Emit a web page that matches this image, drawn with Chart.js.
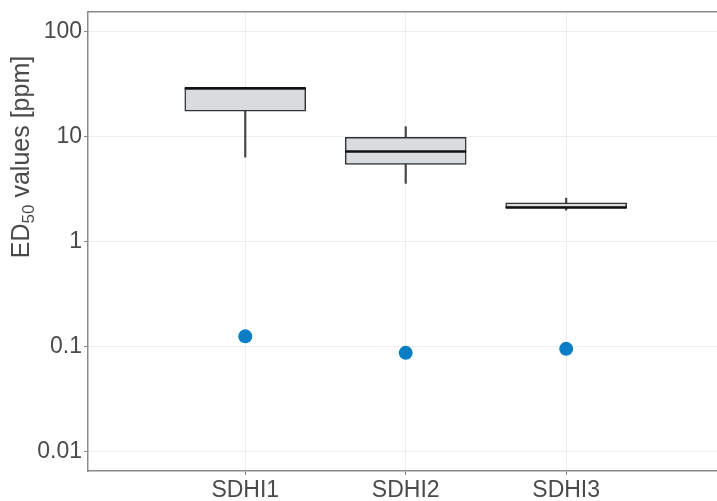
<!DOCTYPE html>
<html>
<head>
<meta charset="utf-8">
<script src="https://cdn.jsdelivr.net/npm/chart.js@4.4.0/dist/chart.umd.min.js"></script>
<style>
    body { margin: 0; background: #ffffff; }
    #wrap { width: 717px; height: 501px; }
</style>
</head>
<body>
<div id="wrap"><canvas id="grafico" width="717" height="501"></canvas></div>
<script>
// values (log axis, ppm)
const categories = ["SDHI1", "SDHI2", "SDHI3"];
const boxLow = [17.6, 5.45, 2.1];
const boxHigh = [29, 9.9, 2.35];
const medians = [29, 7.25, 2.12];
const whiskerLow = [6.4, 3.6, 2.0];
const whiskerHigh = [29, 12.5, 2.6];
const sensitiveValues = [0.125, 0.087, 0.095];
const yTicks = [0.01, 0.1, 1, 10, 100];

const textColor = "#4a4a4a";
const fontFamily = "'Liberation Sans', Arial, sans-serif";

function noPadding(s) {
    s.paddingTop = 0;
    s.paddingBottom = 0;
    s.paddingLeft = 0;
    s.paddingRight = 0;
}

function loadPage() {
    const boxes = categories.map((c, i) => ({ x: i + 1, y: [boxLow[i], boxHigh[i]] }));
    const whiskers = categories.map((c, i) => ({ x: i + 1, y: [whiskerLow[i], whiskerHigh[i]] }));
    const points = categories.map((c, i) => ({ x: i + 1, y: sensitiveValues[i] }));

    // median line + y title with subscript
    const extras = {
        id: "extras",
        afterDatasetsDraw(chart) {
            const ctx = chart.ctx;
            const meta = chart.getDatasetMeta(0);
            ctx.save();
            ctx.strokeStyle = "#111111";
            ctx.lineWidth = 2.5;
            medians.forEach((m, i) => {
                const bar = meta.data[i];
                const y = chart.scales.y.getPixelForValue(m);
                ctx.beginPath();
                ctx.moveTo(bar.x - bar.width / 2, y);
                ctx.lineTo(bar.x + bar.width / 2, y);
                ctx.stroke();
            });
            ctx.restore();
        },
        afterDraw(chart) {
            const ctx = chart.ctx;
            const big = "25px " + fontFamily;
            const small = "17px " + fontFamily;
            ctx.save();
            ctx.translate(22, 157);
            ctx.rotate(-Math.PI / 2);
            ctx.fillStyle = textColor;
            ctx.textBaseline = "middle";
            ctx.font = big;
            const w1 = ctx.measureText("ED").width;
            const w3 = ctx.measureText(" values [ppm]").width;
            ctx.font = small;
            const w2 = ctx.measureText("50").width;
            let x = -(w1 + w2 + w3) / 2;
            ctx.font = big;
            ctx.fillText("ED", x, 0);
            x += w1;
            ctx.font = small;
            ctx.fillText("50", x, 7);
            x += w2;
            ctx.font = big;
            ctx.fillText(" values [ppm]", x, 0);
            ctx.restore();
        }
    };

    const config = {
        type: "bar",
        data: {
            datasets: [
                {
                    label: "box",
                    data: boxes,
                    backgroundColor: "#d9dcdf",
                    borderColor: "#333333",
                    borderWidth: 1.5,
                    borderSkipped: false,
                    barThickness: 121,
                    grouped: false,
                    order: 0
                },
                {
                    label: "whisker",
                    data: whiskers,
                    backgroundColor: "#444444",
                    borderWidth: 0,
                    barThickness: 1.5,
                    grouped: false,
                    order: 1
                },
                {
                    type: "scatter",
                    label: "sensitive",
                    data: points,
                    backgroundColor: "#0b7dc6",
                    borderWidth: 0,
                    pointRadius: 7,
                    order: 2
                }
            ]
        },
        options: {
            responsive: false,
            animation: false,
            layout: { autoPadding: false, padding: { top: 12, right: 0, left: 0, bottom: 0 } },
            plugins: {
                legend: { display: false },
                tooltip: { enabled: false }
            },
            scales: {
                x: {
                    type: "linear",
                    position: "bottom",
                    offset: false,
                    min: 0.02,
                    max: 3.94,
                    afterBuildTicks: s => { s.ticks = categories.map((c, i) => ({ value: i + 1 })); },
                    afterFit: s => { s.height = 30; noPadding(s); },
                    ticks: {
                        autoSkip: false,
                        maxRotation: 0,
                        padding: 2,
                        color: textColor,
                        font: { size: 23, family: fontFamily },
                        callback: (v, i) => categories[i]
                    },
                    grid: { offset: false, color: "#eeeeee", tickColor: "#888888", tickLength: 4, lineWidth: 1 },
                    border: { color: "#8a8a8a", width: 1.5 }
                },
                x2: {
                    type: "linear",
                    position: "top",
                    offset: false,
                    min: 0.02,
                    max: 3.94,
                    afterFit: s => { s.height = 0; noPadding(s); },
                    ticks: { display: false },
                    grid: { offset: false, drawOnChartArea: false, drawTicks: false },
                    border: { color: "#8a8a8a", width: 1.5 }
                },
                y: {
                    type: "logarithmic",
                    min: 0.0065,
                    max: 155,
                    afterBuildTicks: s => { s.ticks = yTicks.map(v => ({ value: v })); },
                    afterFit: s => { s.width = 88; noPadding(s); },
                    ticks: {
                        autoSkip: false,
                        padding: 2,
                        color: textColor,
                        font: { size: 23, family: fontFamily },
                        callback: v => String(v)
                    },
                    grid: { color: "#eeeeee", tickColor: "#888888", tickLength: 4, lineWidth: 1 },
                    border: { color: "#8a8a8a", width: 1.5 }
                }
            }
        },
        plugins: [extras]
    };

    new Chart(document.getElementById("grafico").getContext("2d"), config);
}
window.addEventListener("DOMContentLoaded", loadPage);
</script>
</body>
</html>
